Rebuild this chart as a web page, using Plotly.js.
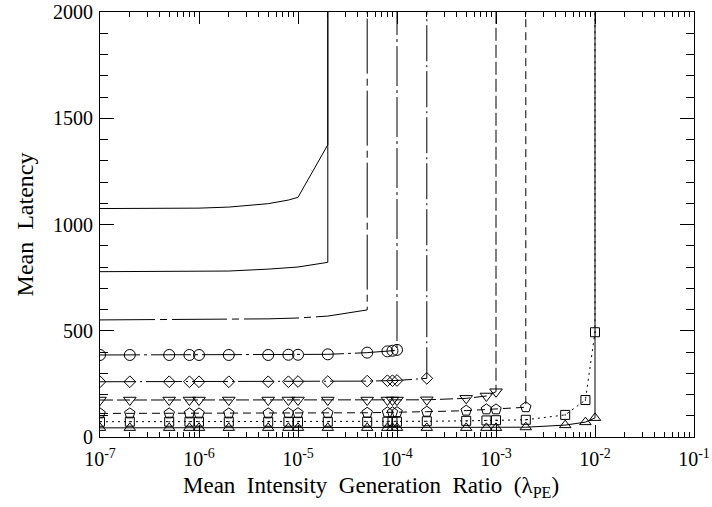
<!DOCTYPE html>
<html>
<head>
<meta charset="utf-8">
<script src="https://cdn.plot.ly/plotly-3.0.1.min.js"></script>
<style>html,body{margin:0;padding:0;background:#fff;}#chart{width:712px;height:507px;}</style>
</head>
<body>
<div id="chart"></div>
<script>
// Off-scale value: latency saturates (curve goes vertically out of the plot)
const SAT = 10000;

// Series without markers
const xA = [1e-7, 2e-7, 5e-7, 1e-6, 2e-6, 5e-6, 8e-6, 1e-5, 2e-5, 2e-5];
const yA = [1075, 1075, 1076, 1077, 1082, 1098, 1115, 1128, 1375, SAT];

const xB = [1e-7, 1e-6, 2e-6, 5e-6, 1e-5, 2e-5, 2e-5];
const yB = [778, 779, 781, 790, 800, 822, SAT];

const xC = [1e-7, 1e-6, 5e-6, 1e-5, 2e-5, 5e-5, 5e-5];
const yC = [551, 553, 556, 560, 569, 598, SAT];

// Series with markers
const xCircle = [1e-7, 2e-7, 5e-7, 8e-7, 1e-6, 2e-6, 5e-6, 8e-6, 1e-5, 2e-5, 5e-5, 8e-5, 9e-5, 1e-4, 1e-4];
const yCircle = [386, 386, 386, 386, 386, 386, 386, 387, 387, 389, 397, 403, 406, 410, SAT];

const xDiamond = [1e-7, 2e-7, 5e-7, 8e-7, 1e-6, 2e-6, 5e-6, 8e-6, 1e-5, 2e-5, 5e-5, 8e-5, 9e-5, 1e-4, 2e-4, 2e-4];
const yDiamond = [260, 260, 260, 260, 260, 260, 260, 260, 261, 261, 263, 265, 265, 266, 276, SAT];

const xTriDown = [1e-7, 2e-7, 5e-7, 8e-7, 1e-6, 2e-6, 5e-6, 8e-6, 1e-5, 2e-5, 5e-5, 8e-5, 9e-5, 1e-4, 2e-4, 5e-4, 8e-4, 1e-3, 1e-3];
const yTriDown = [174, 174, 174, 174, 174, 174, 174, 174, 174, 174, 174, 174, 174, 174, 175, 182, 193, 213, SAT];

const xPent = [1e-7, 2e-7, 5e-7, 8e-7, 1e-6, 2e-6, 5e-6, 8e-6, 1e-5, 2e-5, 5e-5, 8e-5, 9e-5, 1e-4, 2e-4, 5e-4, 8e-4, 1e-3, 2e-3, 2e-3];
const yPent = [111, 111, 111, 111, 111, 111, 111, 112, 112, 112, 114, 116, 116, 117, 119, 124, 130, 130, 140, SAT];

const xSquare = [1e-7, 2e-7, 5e-7, 8e-7, 1e-6, 2e-6, 5e-6, 8e-6, 1e-5, 2e-5, 5e-5, 8e-5, 9e-5, 1e-4, 2e-4, 5e-4, 8e-4, 1e-3, 2e-3, 5e-3, 8e-3, 1e-2, 1e-2];
const ySquare = [72, 72, 72, 72, 72, 72, 72, 72, 72, 72, 72, 72, 72, 72, 74, 76, 78, 79, 81, 104, 174, 493, SAT];

const xTriUp = [1e-7, 2e-7, 5e-7, 8e-7, 1e-6, 2e-6, 5e-6, 8e-6, 1e-5, 2e-5, 5e-5, 8e-5, 9e-5, 1e-4, 2e-4, 5e-4, 8e-4, 1e-3, 2e-3, 5e-3, 8e-3, 1e-2, 1e-2];
const yTriUp = [43, 43, 43, 43, 43, 43, 43, 43, 43, 43, 43, 43, 43, 43, 43, 43, 43, 43, 46, 56, 70, 90, SAT];

// Axis ticks
const xTickVals = [1e-7, 1e-6, 1e-5, 1e-4, 1e-3, 1e-2, 1e-1];
const xTickText = ['10<sup>-7</sup>', '10<sup>-6</sup>', '10<sup>-5</sup>', '10<sup>-4</sup>', '10<sup>-3</sup>', '10<sup>-2</sup>', '10<sup>-1</sup>'];
const yTickVals = [0, 500, 1000, 1500, 2000];

const FONT = 'Liberation Serif, Times New Roman, serif';
const SP = '\u00a0\u00a0';
const xTitle = 'Mean' + SP + 'Intensity' + SP + 'Generation' + SP + 'Ratio' + SP + '(λ<sub>PE</sub>)';
const yTitle = 'Mean' + SP + 'Latency';

function lineTrace(x, y, dash) {
  return {x: x, y: y, type: 'scatter', mode: 'lines',
          line: {color: 'black', width: 1, dash: dash}, hoverinfo: 'skip'};
}
function markTrace(x, y, dash, symbol, size) {
  return {x: x, y: y, type: 'scatter', mode: 'lines+markers',
          line: {color: 'black', width: 1, dash: dash},
          marker: {symbol: symbol, size: size, color: 'black', line: {color: 'black', width: 1}},
          hoverinfo: 'skip'};
}

const data = [
  lineTrace(xA, yA, 'solid'),
  lineTrace(xB, yB, 'solid'),
  lineTrace(xC, yC, '55px,5px,7px,5px'),
  markTrace(xCircle, yCircle, '40px,4px,3px,4px', 'circle-open', 11),
  markTrace(xDiamond, yDiamond, '36px,4px,2px,4px', 'diamond-open', 9),
  markTrace(xTriDown, yTriDown, '13px,4px', 'triangle-down-open', 11),
  markTrace(xPent, yPent, '8px,5px', 'pentagon-open', 11),
  markTrace(xSquare, ySquare, '2px,4px', 'square-open-dot', 9),
  markTrace(xTriUp, yTriUp, 'solid', 'triangle-up-open', 10)
];

const layout = {
  width: 712, height: 507,
  margin: {l: 100, r: 18, t: 12, b: 70},
  paper_bgcolor: 'white', plot_bgcolor: 'white',
  showlegend: false,
  font: {family: FONT, color: 'black', size: 20},
  xaxis: {
    type: 'log', range: [-7, -1],
    tickmode: 'array', tickvals: xTickVals, ticktext: xTickText,
    ticks: 'inside', ticklen: 12, tickwidth: 1, tickcolor: 'black',
    minor: {ticks: 'inside', ticklen: 5, tickwidth: 1, tickcolor: 'black', dtick: 'D1'},
    showline: true, linecolor: 'black', linewidth: 1, mirror: 'allticks',
    showgrid: false, zeroline: false,
    ticklabelstandoff: 4,
    tickfont: {family: FONT, size: 20, color: 'black'}
  },
  yaxis: {
    range: [0, 2000],
    tickmode: 'array', tickvals: yTickVals,
    ticks: 'inside', ticklen: 14, tickwidth: 1, tickcolor: 'black',
    minor: {ticks: 'inside', ticklen: 8, tickwidth: 1, tickcolor: 'black', dtick: 100},
    showline: true, linecolor: 'black', linewidth: 1, mirror: 'allticks',
    showgrid: false, zeroline: false,
    ticklabelstandoff: 2,
    tickfont: {family: FONT, size: 20, color: 'black'},
    title: {text: yTitle, font: {family: FONT, size: 24, color: 'black'}, standoff: 12}
  },
  annotations: [{
    text: xTitle, xref: 'paper', yref: 'paper', x: 0.456, y: -0.118,
    xanchor: 'center', yanchor: 'middle', showarrow: false,
    font: {family: FONT, size: 23, color: 'black'}
  }]
};

Plotly.newPlot('chart', data, layout, {staticPlot: true, displayModeBar: false});
</script>
</body>
</html>
